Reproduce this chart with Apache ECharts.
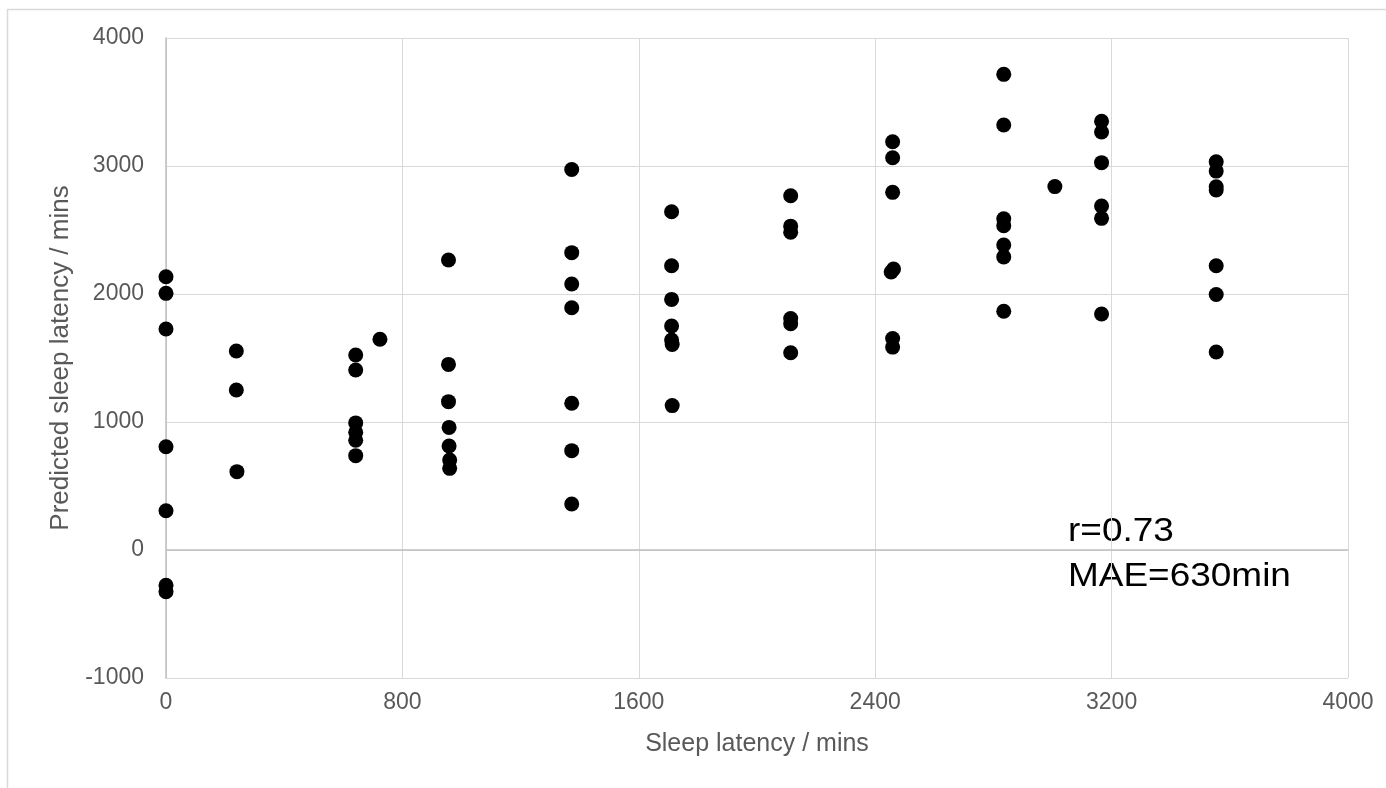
<!DOCTYPE html>
<html>
<head>
<meta charset="utf-8">
<title>Sleep latency</title>
<script src="https://cdn.jsdelivr.net/npm/echarts@6/dist/echarts.min.js"></script>
<style>
  html, body { margin: 0; padding: 0; background: #fff; }
  #chart { width: 1386px; height: 788px; }
</style>
</head>
<body>
<div id="chart"></div>
<script>
// actual sleep latency (mins) and predicted sleep latency (mins)
const actual = [
    0, 0, 0, 0, 0, 0, 0,
    238, 238, 240,
    642, 642, 642, 642, 642, 642, 724,
    956, 956, 956, 958, 958, 960, 960,
    1373, 1373, 1373, 1373, 1373, 1373, 1373,
    1711, 1711, 1711, 1711, 1711, 1713, 1713,
    2114, 2114, 2114, 2114, 2114, 2114,
    2459, 2459, 2459, 2454, 2462, 2459, 2459,
    2835, 2835, 2835, 2835, 2835, 2835, 2835,
    3008,
    3166, 3166, 3166, 3166, 3166, 3166,
    3554, 3554, 3554, 3554, 3554, 3554, 3554
];
const predicted = [
    2135, 2005, 1727, 807, 307, -275, -326,
    1555, 1250, 612,
    1523, 1406, 993, 920, 857, 737, 1646,
    2266, 1450, 1159, 958, 812, 703, 638,
    2973, 2323, 2078, 1893, 1146, 776, 359,
    2643, 2221, 1958, 1750, 1641, 1605, 1128,
    2768, 2530, 2482, 1808, 1768, 1541,
    3190, 3065, 2794, 2172, 2195, 1652, 1585,
    3716, 3320, 2588, 2533, 2383, 2290, 1865,
    2839,
    3350, 3266, 3026, 2688, 2591, 1844,
    3033, 2960, 2838, 2812, 2221, 1996, 1547
];
const stats = ['r=0.73', 'MAE=630min'];

const points = actual.map((x, i) => [x, predicted[i]]);

const chart = echarts.init(document.getElementById('chart'));
const font = 'Liberation Sans, Arial, sans-serif';
const plain = (v) => String(v);

const option = {
    animation: false,
    backgroundColor: '#ffffff',
    grid: { left: 166, top: 38, right: 38, bottom: 110 },
    graphic: [
        {
            type: 'rect',
            left: 5, top: 7,
            shape: { width: 1400, height: 800 },
            style: { fill: 'none', stroke: '#d9d9d9', lineWidth: 1.5 },
            silent: true
        },
        {
            type: 'text',
            left: 1068, top: 509,
            scaleX: 1.12,
            style: {
                text: stats.join('\n'),
                font: '33px ' + font,
                fill: '#000000',
                lineHeight: 45
            }
        }
    ],
    xAxis: {
        type: 'value',
        min: 0, max: 4000, interval: 800,
        name: 'Sleep latency / mins',
        nameLocation: 'middle',
        nameGap: 54,
        nameTextStyle: { color: '#595959', fontSize: 25, fontFamily: font },
        axisLine: { show: false, onZero: false },
        axisTick: { show: false },
        axisLabel: { color: '#595959', fontSize: 23, fontFamily: font, margin: 13, formatter: plain },
        splitLine: { show: true, lineStyle: { color: '#d9d9d9', width: 1 } }
    },
    yAxis: {
        type: 'value',
        min: -1000, max: 4000, interval: 1000,
        name: 'Predicted sleep latency / mins',
        nameLocation: 'middle',
        nameGap: 86,
        nameTextStyle: { color: '#595959', fontSize: 26, fontFamily: font },
        axisLine: { show: true, onZero: false, lineStyle: { color: '#bfbfbf', width: 1.5 } },
        axisTick: { show: false },
        axisLabel: { color: '#595959', fontSize: 23, fontFamily: font, margin: 22, formatter: plain },
        splitLine: { show: true, lineStyle: { color: '#d9d9d9', width: 1 } }
    },
    series: [
        {
            type: 'scatter',
            data: points,
            symbol: 'circle',
            symbolSize: 15,
            itemStyle: { color: '#000000', opacity: 1 },
            markLine: {
                silent: true,
                symbol: 'none',
                label: { show: false },
                lineStyle: { color: '#bfbfbf', width: 1.5, type: 'solid' },
                data: [{ yAxis: 0 }],
                z: 1
            }
        }
    ]
};

chart.setOption(option);
</script>
</body>
</html>
